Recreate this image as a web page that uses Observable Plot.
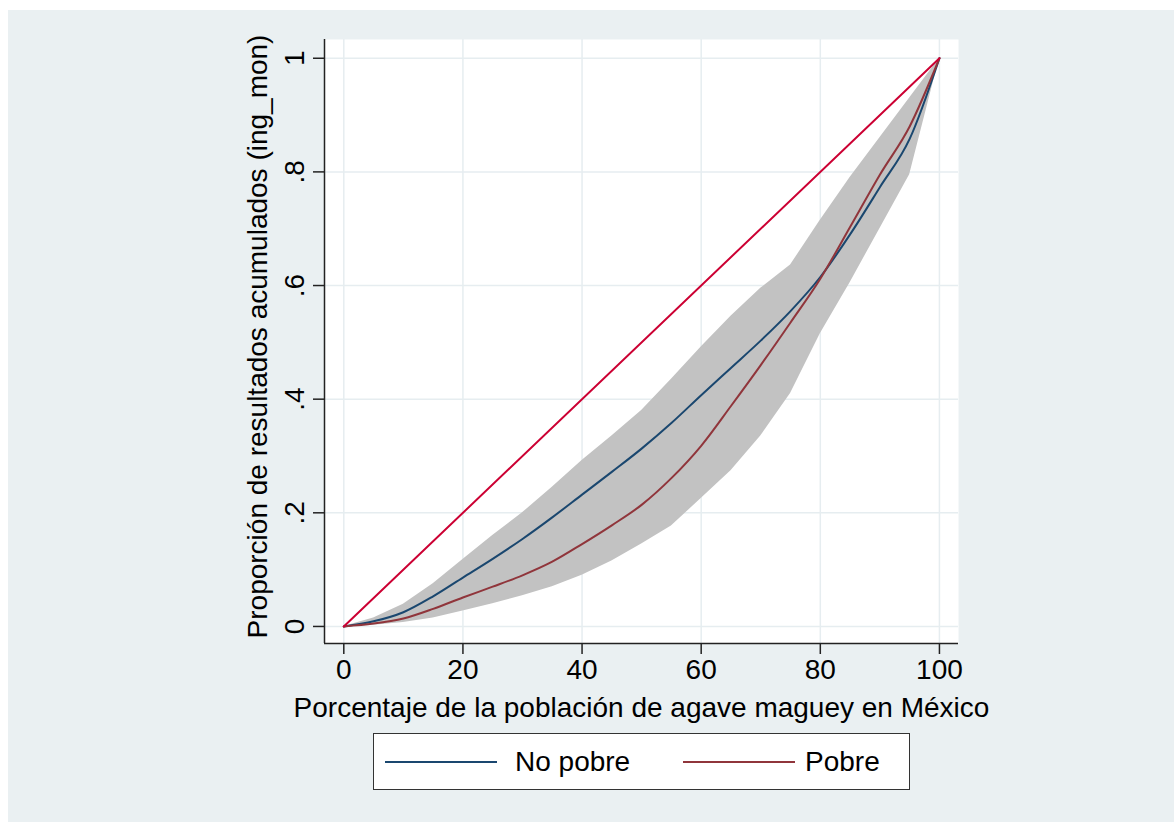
<!DOCTYPE html>
<html>
<head>
<meta charset="utf-8">
<script src="https://cdn.jsdelivr.net/npm/d3@7"></script>
<script src="https://cdn.jsdelivr.net/npm/@observablehq/plot@0.6"></script>
<style>
  html, body { margin: 0; padding: 0; background: #ffffff; }
  #bg { position: absolute; left: 8px; top: 10px; width: 1166px; height: 812px; background: #eaf0f2; }
  #chart { position: absolute; left: 0; top: 0; }
  #legend { position: absolute; left: 373px; top: 733px; width: 535px; height: 55px;
            border: 1px solid #333; background: #fff;
            font-family: "Liberation Sans", Arial, Helvetica, sans-serif; font-size: 28px; color: #000; }
  #legend .sw { position: absolute; top: 27px; width: 112px; height: 2px; }
  #legend .lab { position: absolute; top: 0; height: 55px; line-height: 55px; white-space: nowrap; }
</style>
</head>
<body>
<div id="bg"></div>
<div id="chart"></div>
<div id="legend"></div>
<script>
// Percent of population (x) and cumulative share (y)
const xs = [0, 5, 10, 15, 20, 25, 30, 35, 40, 45, 50, 55, 60, 65, 70, 75, 80, 85, 90, 95, 100];
const noPobre = [0, 0.009, 0.025, 0.053, 0.086, 0.119, 0.154, 0.192, 0.232, 0.272, 0.313, 0.358, 0.407, 0.455, 0.503, 0.555, 0.615, 0.69, 0.773, 0.858, 1];
const pobre   = [0, 0.005, 0.014, 0.031, 0.051, 0.07, 0.09, 0.114, 0.145, 0.178, 0.214, 0.261, 0.318, 0.388, 0.46, 0.535, 0.612, 0.703, 0.795, 0.88, 1];
// Confidence band
const bandX     = [0, 5, 10, 15, 20, 25, 30, 35, 40, 45, 50, 55, 60, 65, 70, 75, 80, 85, 90, 95, 100];
const bandUpper = [0, 0.015, 0.039, 0.075, 0.118, 0.16, 0.2, 0.245, 0.292, 0.335, 0.38, 0.435, 0.492, 0.546, 0.595, 0.636, 0.715, 0.79, 0.86, 0.93, 1];
const bandLower = [0, 0.002, 0.007, 0.015, 0.027, 0.04, 0.054, 0.07, 0.09, 0.115, 0.145, 0.177, 0.225, 0.274, 0.335, 0.41, 0.515, 0.605, 0.7, 0.795, 1];
// Equality line
const eqX = [0, 100];
const eqY = [0, 1];
// Ticks
const xTicks = [0, 20, 40, 60, 80, 100];
const yTicks = [0, 0.2, 0.4, 0.6, 0.8, 1];
const yTickLabels = ["0", ".2", ".4", ".6", ".8", "1"];
const xTitle = "Porcentaje de la población de agave maguey en México";
const yTitle = "Proporción de resultados acumulados (ing_mon)";
const seriesNames = ["No pobre", "Pobre"];
const seriesColors = ["#1a476f", "#90353b"];
const eqColor = "#cc0033";

const xDomain = [-3.24, 103.2];
const yDomain = [-0.030, 1.033];

const font = "'Liberation Sans', Arial, Helvetica, sans-serif";

const band = bandX.map((x, i) => ({x, lo: bandLower[i], hi: bandUpper[i]}));
const lines = [];
xs.forEach((x, i) => lines.push({x, y: noPobre[i], s: seriesNames[0]}));
xs.forEach((x, i) => lines.push({x, y: pobre[i], s: seriesNames[1]}));
const eq = eqX.map((x, i) => ({x, y: eqY[i]}));

const chart = Plot.plot({
  width: 1174,
  height: 725,
  marginLeft: 324,
  marginRight: 216,
  marginTop: 39,
  marginBottom: 82,
  style: {fontFamily: font, fontSize: "28px", background: "transparent", color: "#000", overflow: "visible"},
  x: {domain: xDomain},
  y: {domain: yDomain},
  color: {domain: seriesNames, range: seriesColors},
  marks: [
    Plot.frame({fill: "#ffffff", stroke: null}),
    Plot.gridX(xTicks, {stroke: "#e6edf0", strokeOpacity: 1, strokeWidth: 1.5}),
    Plot.gridY(yTicks, {stroke: "#e6edf0", strokeOpacity: 1, strokeWidth: 1.5}),
    Plot.areaY(band, {x: "x", y1: "lo", y2: "hi", fill: "#c2c2c2", curve: "linear"}),
    Plot.line(lines, {x: "x", y: "y", z: "s", stroke: "s", strokeWidth: 2, curve: "monotone-x"}),
    Plot.line(eq, {x: "x", y: "y", stroke: eqColor, strokeWidth: 2}),
    Plot.ruleX([xDomain[0]], {y1: yDomain[0], y2: yDomain[1], stroke: "#222", strokeWidth: 1.5}),
    Plot.ruleY([yDomain[0]], {x1: xDomain[0], x2: xDomain[1], stroke: "#222", strokeWidth: 1.5}),
    Plot.axisX(xTicks, {tickSize: 11, tickPadding: 5, fontSize: 28, label: null, stroke: "#222", strokeWidth: 1.5}),
    Plot.axisY(yTicks, {tickSize: 11, tickPadding: 10, tickRotate: -90, fontSize: 28, label: null,
      tickFormat: (d) => yTickLabels[yTicks.indexOf(d)], stroke: "#222", strokeWidth: 1.5}),
    Plot.text([xTitle], {frameAnchor: "bottom", dy: 73, lineAnchor: "bottom", fontSize: 28, fill: "#000"}),
    Plot.text([yTitle], {frameAnchor: "left", textAnchor: "middle", rotate: -90, dx: -66, dy: -5, lineAnchor: "middle", fontSize: 28, fill: "#000"})
  ]
});
document.getElementById("chart").appendChild(chart);

// Legend
const legend = document.getElementById("legend");
const items = [
  {name: seriesNames[0], color: seriesColors[0], sw: 11, lab: 141},
  {name: seriesNames[1], color: seriesColors[1], sw: 309, lab: 431}
];
items.forEach(it => {
  const sw = document.createElement("div");
  sw.className = "sw";
  sw.style.left = it.sw + "px";
  sw.style.background = it.color;
  legend.appendChild(sw);
  const lab = document.createElement("div");
  lab.className = "lab";
  lab.style.left = it.lab + "px";
  lab.textContent = it.name;
  legend.appendChild(lab);
});
</script>
</body>
</html>
